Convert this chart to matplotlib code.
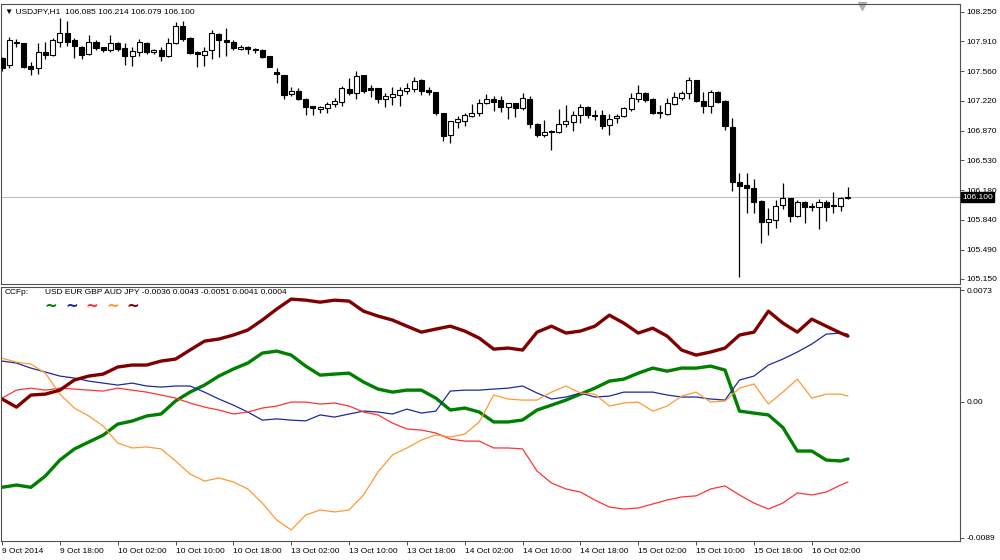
import numpy as np
import matplotlib
matplotlib.use('Agg')
import matplotlib.pyplot as plt

plt.rcParams['font.family'] = ['Liberation Sans', 'DejaVu Sans']

# USDJPY H1 candles (bar 0 = 9 Oct 2014 10:00)
opens = [107.711, 107.634, 107.905, 107.886, 107.622, 107.595, 107.789, 107.750, 107.905, 108.002,
         107.924, 107.847, 107.762, 107.905, 107.839, 107.808, 107.886, 107.828, 107.739, 107.789,
         107.893, 107.781, 107.808, 107.739, 107.886, 108.087, 107.952, 107.789, 107.750, 107.808,
         107.994, 107.924, 107.905, 107.824, 107.847, 107.816, 107.808, 107.739, 107.557, 107.518,
         107.293, 107.332, 107.239, 107.158, 107.119, 107.131, 107.177, 107.208, 107.355, 107.313,
         107.518, 107.363, 107.363, 107.239, 107.266, 107.286, 107.336, 107.355, 107.460, 107.344,
         107.317, 107.080, 106.821, 106.976, 106.988, 107.042, 107.073, 107.189, 107.235, 107.228,
         107.142, 107.189, 107.131, 107.235, 106.949, 106.821, 106.867, 106.860, 106.949, 106.976,
         107.053, 107.142, 107.049, 107.053, 106.937, 107.015, 107.042, 107.119, 107.235, 107.313,
         107.235, 107.092, 107.061, 107.181, 107.247, 107.305, 107.460, 107.220, 107.158, 107.324,
         107.220, 106.918, 106.271, 106.240, 106.209, 106.058, 105.814, 105.834, 106.008, 106.085,
         105.884, 106.046, 105.996, 105.988, 106.046, 106.008, 105.996, 106.085]
highs = [107.730, 107.955, 107.932, 107.890, 107.673, 107.893, 107.905, 107.944, 108.176, 108.149,
         107.952, 107.850, 107.983, 107.924, 107.847, 107.983, 107.905, 107.893, 107.847, 107.932,
         107.905, 107.816, 107.839, 107.944, 108.137, 108.149, 107.955, 107.801, 107.847, 108.041,
         108.002, 108.060, 107.924, 107.866, 107.850, 107.835, 107.816, 107.740, 107.595, 107.520,
         107.375, 107.363, 107.247, 107.160, 107.158, 107.208, 107.247, 107.390, 107.479, 107.568,
         107.520, 107.402, 107.365, 107.313, 107.375, 107.382, 107.429, 107.499, 107.468, 107.382,
         107.324, 107.080, 106.988, 107.042, 107.080, 107.181, 107.235, 107.297, 107.274, 107.274,
         107.190, 107.190, 107.305, 107.274, 106.957, 106.995, 106.879, 107.119, 107.169, 107.104,
         107.181, 107.158, 107.111, 107.111, 107.065, 107.065, 107.150, 107.305, 107.402, 107.324,
         107.247, 107.169, 107.247, 107.324, 107.336, 107.491, 107.465, 107.324, 107.343, 107.336,
         107.227, 107.014, 106.376, 106.376, 106.306, 106.066, 105.969, 106.066, 106.259, 106.090,
         106.066, 106.058, 106.027, 106.074, 106.066, 106.163, 106.105, 106.214]
lows = [107.570, 107.595, 107.847, 107.595, 107.518, 107.530, 107.700, 107.739, 107.847, 107.855,
        107.711, 107.700, 107.750, 107.808, 107.789, 107.789, 107.801, 107.634, 107.622, 107.739,
        107.762, 107.758, 107.680, 107.723, 107.878, 107.917, 107.762, 107.607, 107.622, 107.700,
        107.731, 107.739, 107.808, 107.808, 107.762, 107.777, 107.711, 107.607, 107.421, 107.235,
        107.278, 107.228, 107.053, 107.053, 107.073, 107.073, 107.150, 107.158, 107.286, 107.239,
        107.313, 107.259, 107.189, 107.150, 107.169, 107.158, 107.293, 107.324, 107.286, 107.286,
        107.053, 106.755, 106.732, 106.898, 106.926, 107.026, 107.042, 107.181, 107.104, 107.092,
        107.003, 107.034, 107.111, 106.898, 106.794, 106.794, 106.647, 106.848, 106.918, 106.871,
        106.964, 107.015, 106.995, 106.887, 106.821, 106.964, 107.026, 107.104, 107.208, 107.208,
        107.065, 107.014, 107.053, 107.169, 107.227, 107.235, 107.208, 107.072, 107.080, 107.189,
        106.879, 106.174, 105.168, 105.911, 105.919, 105.570, 105.659, 105.737, 105.957, 105.814,
        105.872, 105.803, 105.942, 105.725, 105.826, 105.911, 105.942, 106.079]
closes = [107.595, 107.924, 107.886, 107.615, 107.584, 107.789, 107.750, 107.924, 108.002, 107.905,
          107.855, 107.750, 107.905, 107.828, 107.808, 107.886, 107.816, 107.739, 107.801, 107.905,
          107.789, 107.808, 107.739, 107.886, 108.087, 107.932, 107.770, 107.762, 107.801, 108.002,
          107.924, 107.901, 107.828, 107.847, 107.816, 107.804, 107.723, 107.615, 107.530, 107.286,
          107.336, 107.235, 107.150, 107.131, 107.150, 107.181, 107.216, 107.363, 107.313, 107.506,
          107.336, 107.344, 107.235, 107.274, 107.297, 107.344, 107.371, 107.452, 107.336, 107.317,
          107.073, 106.809, 106.984, 107.003, 107.053, 107.073, 107.197, 107.235, 107.208, 107.142,
          107.189, 107.131, 107.247, 106.949, 106.821, 106.860, 106.852, 106.949, 106.988, 107.053,
          107.150, 107.053, 107.038, 106.926, 107.003, 107.042, 107.131, 107.247, 107.305, 107.228,
          107.080, 107.072, 107.196, 107.258, 107.305, 107.460, 107.216, 107.158, 107.324, 107.208,
          106.925, 106.279, 106.232, 106.201, 106.046, 105.814, 105.841, 105.996, 106.085, 105.884,
          106.046, 105.981, 105.981, 106.046, 105.988, 105.996, 106.085, 106.100]

price_ticks = [108.250, 107.910, 107.560, 107.220, 106.870, 106.530, 106.180, 105.840, 105.490, 105.150]
last_price = 106.100

time_labels = ['9 Oct 2014', '9 Oct 18:00', '10 Oct 02:00', '10 Oct 10:00', '10 Oct 18:00',
               '13 Oct 02:00', '13 Oct 10:00', '13 Oct 18:00', '14 Oct 02:00', '14 Oct 10:00',
               '14 Oct 18:00', '15 Oct 02:00', '15 Oct 10:00', '15 Oct 18:00', '16 Oct 02:00']

# CCFp values (x 1e-4), read every second bar plus the last one
ccf_bars = list(range(0, 117, 2)) + [117]
usd = [-55.9, -54.4, -55.9, -48.5, -38.1, -30.9, -26.3, -21.8, -14.6, -12.6, -9.3, -8.0, 0.5, 6.3, 10.9,
       16.8, 21.4, 25.3, 31.8, 33.1, 30.5, 23.3, 17.4, 18.1, 18.7, 12.9, 8.3, 6.3, 7.6, 7.6, 2.4, -5.4,
       -4.1, -6.7, -13.2, -13.2, -11.9, -5.4, -2.2, 1.1, 5.0, 8.9, 13.5, 14.8, 18.7, 22.0, 20.0, 22.0,
       22.0, 23.3, 20.7, -6.1, -7.4, -8.6, -16.8, -32.2, -32.2, -38.1, -38.7, -37.4]
eur = [26.6, 25.3, 22.0, 19.4, 16.8, 15.5, 13.5, 12.2, 10.9, 12.2, 10.3, 9.6, 10.3, 10.3, 6.3, 1.8,
       -2.2, -6.7, -12.0, -11.2, -12.0, -12.5, -8.6, -10.0, -8.0, -6.1, -6.7, -8.0, -4.8, -7.4, -6.1,
       7.0, 7.6, 7.6, 8.3, 8.9, 10.3, 5.7, 1.8, 3.1, 5.7, 3.1, 3.7, 6.3, 6.3, 6.3, 4.4, 3.1, 3.1, 1.8,
       1.1, 14.2, 16.8, 24.0, 27.9, 32.5, 37.7, 44.2, 44.9, 44.2]
gbp = [2.4, 7.6, 8.9, 7.6, 8.9, 8.3, 7.6, 7.0, 8.9, 7.6, 6.3, 4.4, 2.4, -0.8, -3.5, -5.4, -8.0, -6.7,
       -4.1, -2.8, -0.2, -0.2, -1.5, -0.8, -2.8, -6.7, -8.6, -13.9, -17.8, -18.5, -20.4, -24.4, -25.7,
       -25.7, -30.2, -30.2, -30.8, -45.3, -53.1, -57.0, -59.0, -64.2, -68.8, -70.1, -69.4, -66.8,
       -64.2, -62.2, -61.5, -57.0, -55.0, -60.9, -66.2, -70.1, -66.2, -59.6, -60.9, -59.0, -54.4, -52.4]
aud = [28.5, 25.9, 24.6, 18.7, 5.0, -4.1, -9.3, -15.9, -27.0, -30.2, -29.5, -30.8, -38.7, -47.2,
       -51.8, -49.8, -52.4, -57.0, -66.2, -77.3, -83.8, -74.0, -70.7, -72.0, -70.7, -60.9, -45.9,
       -34.8, -30.2, -25.0, -21.7, -23.0, -21.1, -13.2, 4.4, 1.8, 1.1, 1.1, 6.3, 10.3, 5.7, 5.0, -2.8,
       -0.8, -0.2, -6.1, -2.8, 3.7, 6.3, -0.2, 0.5, 8.9, 11.6, -1.5, 6.3, 14.8, 2.4, 5.0, 5.0, 3.7]
jpy = [1.8, -3.5, 4.4, 5.0, 7.6, 14.2, 16.8, 18.1, 22.7, 24.0, 24.0, 26.6, 27.9, 33.8, 39.6, 41.0,
       43.6, 46.9, 53.4, 60.6, 67.1, 66.4, 65.1, 66.4, 65.8, 59.2, 56.0, 53.4, 49.4, 45.5, 47.5, 49.4,
       46.2, 41.6, 34.4, 35.1, 33.8, 45.5, 49.4, 44.9, 46.2, 49.4, 56.6, 51.4, 44.9, 48.1, 42.9, 33.8,
       30.5, 32.5, 35.1, 43.6, 45.5, 59.2, 51.4, 45.5, 54.0, 49.4, 44.9, 42.9]

ccf_ticks = [0.0073, 0.0, -0.0089]
ccf_tick_labels = ['0.0073', '0.00', '-0.0089']

FRAME = '#505050'


def style_panel(ax):
    for s in ax.spines.values():
        s.set_color(FRAME)
        s.set_linewidth(0.8)
    ax.yaxis.tick_right()
    ax.tick_params(axis='y', direction='out', length=3, width=0.7, colors=FRAME,
                   labelcolor='black', labelsize=6, pad=1.5)
    ax.set_xlim(-0.14, 132.5)


fig = plt.figure(figsize=(10, 5.6), dpi=100)
ax1 = fig.add_axes([0.001, 0.4929, 0.959, 0.5])
ax2 = fig.add_axes([0.001, 0.0339, 0.959, 0.4536])

# price window
o = np.array(opens)
h = np.array(highs)
l = np.array(lows)
c = np.array(closes)
x = np.arange(len(o))
up = c >= o
ax1.vlines(x, l, h, color='black', linewidth=0.9, zorder=2)
ax1.bar(x, np.abs(c - o), bottom=np.minimum(o, c), width=0.7,
        color=np.where(up, 'white', 'black'), edgecolor='black', linewidth=0.8, zorder=3)
ax1.axhline(last_price, color='#c0c0c0', linewidth=0.8, zorder=1)

style_panel(ax1)
ax1.set_ylim(105.092, 108.343)
ax1.set_yticks(price_ticks)
ax1.set_yticklabels(['%.3f' % p for p in price_ticks])
ax1.set_xticks([])
ax1.text(1.002, last_price, '%.3f' % last_price, transform=ax1.get_yaxis_transform(),
         ha='left', va='center', fontsize=6, color='white', zorder=10,
         bbox=dict(boxstyle='square,pad=0.15', fc='black', ec='black'))
ax1.text(0.004, 0.985, '\u25bc USDJPY,H1  106.085 106.214 106.079 106.100', transform=ax1.transAxes,
         ha='left', va='top', fontsize=6)
ax1.plot([0.898], [0.993], marker='v', color='#b0b0b0', markersize=6, transform=ax1.transAxes,
         clip_on=False)

# CCFp window
series = [('USD', usd, '#008000', 2.4), ('EUR', eur, '#1c2a9c', 0.9), ('GBP', gbp, '#ff3333', 0.9),
          ('AUD', aud, '#ff9933', 0.9), ('JPY', jpy, '#800000', 2.4)]
for name, vals, col, lw in series:
    ax2.plot(ccf_bars, np.array(vals) * 1e-4, color=col, linewidth=lw, solid_capstyle='round')

style_panel(ax2)
ax2.set_ylim(-0.0091, 0.0075)
ax2.set_yticks(ccf_ticks)
ax2.set_yticklabels(ccf_tick_labels)
ax2.set_xticks(range(0, 8 * len(time_labels), 8))
ax2.set_xticklabels(time_labels)
ax2.tick_params(axis='x', direction='out', length=3, width=0.7, colors=FRAME,
                labelcolor='black', labelsize=6, pad=2)
for lbl in ax2.get_xticklabels():
    lbl.set_horizontalalignment('left')

fig.text(0.005, 1 - 292 / 560, 'CCFp:', fontsize=6, va='center', ha='left')
fig.text(0.045, 1 - 292 / 560, 'USD EUR GBP AUD JPY -0.0036 0.0043 -0.0051 0.0041 0.0004',
         fontsize=6, va='center', ha='left')
for (name, vals, col, lw), px in zip(series, [51, 72, 92, 113, 133]):
    fig.text(px / 1000, 1 - 298.5 / 560, '~', fontsize=11, fontweight='bold', color=col,
             ha='center', va='top', family='DejaVu Sans')

fig.savefig('out.png', dpi=100)
